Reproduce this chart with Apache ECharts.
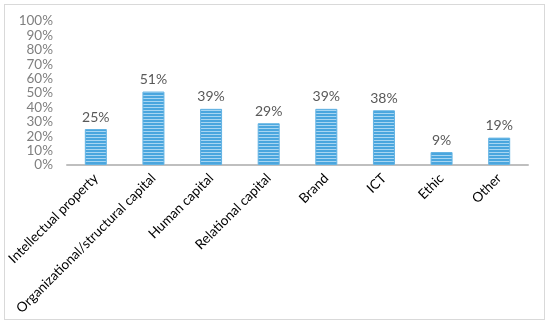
<!DOCTYPE html>
<html><head><meta charset="utf-8">
<script src="https://cdn.jsdelivr.net/npm/echarts@6/dist/echarts.min.js"></script>
<style>html,body{margin:0;padding:0;background:#fff}#frame{position:absolute;left:4px;top:4px;width:539px;height:314px;border:1px solid #d9d9d9}#c{width:550px;height:325px;position:absolute;left:0;top:0}</style>
</head><body><div id="frame"></div><div id="c"></div>
<script>
var categories = ["Intellectual property","Organizational/structural capital","Human capital","Relational capital","Brand","ICT","Ethic","Other"];
var values = [25, 51, 39, 29, 39, 38, 9, 19];
var yTicks = [0,10,20,30,40,50,60,70,80,90,100];

var pc = document.createElement('canvas');
pc.width = 4; pc.height = 3;
var ctx = pc.getContext('2d');
ctx.fillStyle = '#4aa6de'; ctx.fillRect(0,0,4,2);
ctx.fillStyle = '#a8d6f2'; ctx.fillRect(0,2,4,1);

var chart = echarts.init(document.getElementById('c'), null, {renderer:'canvas'});
chart.setOption({
  animation:false,
  textStyle:{fontFamily:'Lato'},
  grid:{left:67,right:22,top:21,bottom:160,containLabel:false},
  xAxis:{type:'category',data:categories,
    axisLine:{lineStyle:{color:'#bfbfbf',width:2}},
    axisTick:{show:false},
    axisLabel:{rotate:45,color:'#000',fontSize:13.5,fontFamily:'Lato',margin:11,interval:0}},
  yAxis:{type:'value',min:0,max:100,interval:10,
    axisLine:{show:false},axisTick:{show:false},splitLine:{show:false},
    axisLabel:{formatter:function(v){return v+'%';},color:'#7f7f7f',fontSize:13.5,fontFamily:'Lato',margin:14}},
  series:[{type:'bar',data:values,barWidth:22,
    itemStyle:{color:{image:pc,repeat:'repeat'},borderColor:'#63b3e3',borderWidth:1},
    label:{show:true,position:'top',distance:5,formatter:'{c}%',color:'#595959',fontSize:14,fontFamily:'Lato'}}]
});
</script></body></html>
